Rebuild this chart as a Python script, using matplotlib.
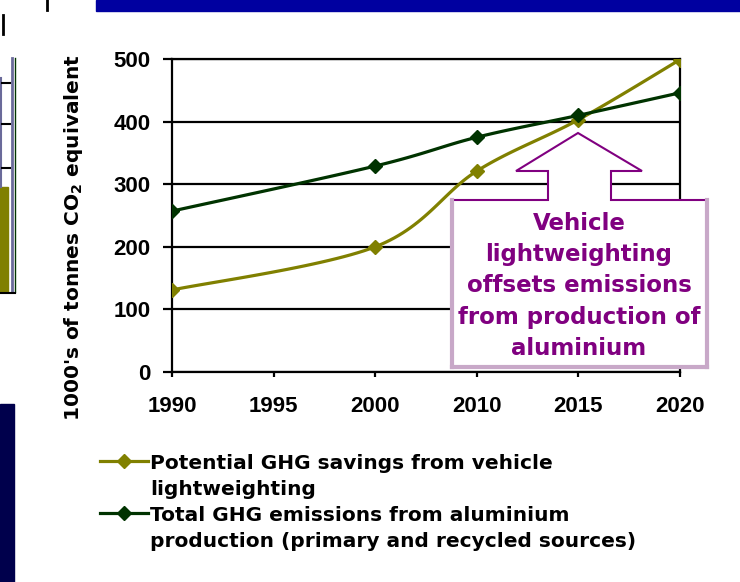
import numpy as np
import matplotlib.pyplot as plt
from matplotlib.patches import Polygon, Rectangle
from matplotlib.lines import Line2D

plt.rcParams['font.family'] = ['Liberation Sans', 'DejaVu Sans']
plt.rcParams['font.weight'] = 'bold'

# data (1995 has no value, the line runs through it)
years = ['1990', '1995', '2000', '2010', '2015', '2020']
savings = [131, None, 200, 321, 403, 499]
emissions = [257, None, 329, 375, 410, 446]
yticks = [0, 100, 200, 300, 400, 500]

label_savings = 'Potential GHG savings from vehicle\nlightweighting'
label_emissions = 'Total GHG emissions from aluminium\nproduction (primary and recycled sources)'
callout_text = 'Vehicle\nlightweighting\noffsets emissions\nfrom production of\naluminium'

c_olive = '#808000'
c_green = '#003300'
c_purple = '#800080'
c_lilac = '#C8A8C8'
wide = ['DejaVu Sans']

W, H = 740, 582


def fx(x):
    return x / W


def fy(y):
    return 1 - y / H


def smooth(xs, ys, n=30):
    # Excel style smoothed line: bezier through the points
    xs = np.asarray(xs, float)
    ys = np.asarray(ys, float)
    ox, oy = [], []
    for i in range(len(xs) - 1):
        i0 = max(i - 1, 0)
        i3 = min(i + 2, len(xs) - 1)
        p1 = np.array([xs[i], ys[i]])
        p2 = np.array([xs[i + 1], ys[i + 1]])
        c1 = p1 + (p2 - np.array([xs[i0], ys[i0]])) / 6
        c2 = p2 - (np.array([xs[i3], ys[i3]]) - p1) / 6
        t = np.linspace(0, 1, n)[:, None]
        b = (1 - t)**3 * p1 + 3 * (1 - t)**2 * t * c1 + 3 * (1 - t) * t**2 * c2 + t**3 * p2
        ox.extend(b[:, 0])
        oy.extend(b[:, 1])
    return ox, oy


fig = plt.figure(figsize=(7.4, 5.82), dpi=100)
ax = fig.add_axes([fx(172), fy(372), (680 - 172) / W, (372 - 59) / H])

for vals, col in [(savings, c_olive), (emissions, c_green)]:
    xi = [i for i, v in enumerate(vals) if v is not None]
    yv = [v for v in vals if v is not None]
    sx, sy = smooth(xi, yv)
    ax.plot(sx, sy, color=col, lw=2.3, zorder=4, solid_capstyle='round')
    ax.plot(xi, yv, ls='none', marker='D', ms=7.5, color=col, zorder=5)

ax.set_xlim(0, len(years) - 1)
ax.set_ylim(0, 500)
ax.set_xticks(range(len(years)))
ax.set_xticklabels(years)
ax.set_yticks(yticks)
ax.yaxis.grid(True, color='black', lw=1.6)
ax.set_axisbelow(True)
for s in ax.spines.values():
    s.set_linewidth(1.6)
ax.tick_params(axis='y', length=6.5, width=1.6, pad=9, labelsize=16)
ax.tick_params(axis='x', length=3.6, width=1.6, pad=13.5, labelsize=16)
ax.set_ylabel("1000's of tonnes CO$_{\\mathbf{2}}$ equivalent", fontsize=14.5,
              fontweight='bold', family=wide)
ax.yaxis.set_label_coords(-0.172, 0.43)

# callout arrow box
pts = [(452, 200), (548, 200), (548, 171), (516, 171), (578, 133), (642, 171),
       (611, 171), (611, 200), (707, 200), (707, 367), (452, 367)]
poly = Polygon([(fx(x), fy(y)) for x, y in pts], closed=True, transform=fig.transFigure,
               facecolor='white', edgecolor=c_purple, lw=1.5, zorder=3)
poly.set_clip_on(False)
ax.add_artist(poly)
for (x0, y0), (x1, y1) in [((452, 200), (452, 367)), ((707, 200), (707, 367)),
                           ((452, 367), (707, 367))]:
    fig.add_artist(Line2D([fx(x0), fx(x1)], [fy(y0), fy(y1)], color=c_lilac, lw=3))
fig.text(fx(579), fy(286), callout_text, color=c_purple, fontsize=16.5, ha='center',
         va='center', linespacing=1.47, family=wide)

# legend drawn by hand
for yy, col, lab in [(461, c_olive, label_savings), (513, c_green, label_emissions)]:
    fig.add_artist(Line2D([fx(100), fx(148)], [fy(yy), fy(yy)], color=col, lw=2.3))
    fig.add_artist(Line2D([fx(124)], [fy(yy)], marker='D', ms=7, color=col))
    fig.text(fx(150), fy(yy - 7), lab, fontsize=14.5, va='top', ha='left',
             linespacing=1.45, family=wide)

# slide fragments around the chart
fig.add_artist(Rectangle((fx(96), fy(11)), fx(740 - 96), 11 / H, color='#0000A0',
                         transform=fig.transFigure))
fig.add_artist(Rectangle((0, fy(582)), fx(14), (582 - 404) / H, color='#00004C',
                         transform=fig.transFigure))
fig.add_artist(Rectangle((0, fy(292)), fx(8), (292 - 187) / H, color='#808000',
                         transform=fig.transFigure))
fig.add_artist(Line2D([fx(12), fx(12)], [fy(58), fy(292)], color='#6A6A9A', lw=2))
fig.add_artist(Line2D([fx(1), fx(1)], [fy(78), fy(187)], color='#6A6A9A', lw=1.5))
fig.add_artist(Line2D([fx(15), fx(15)], [fy(58), fy(292)], color=c_green, lw=1))
fig.add_artist(Line2D([0, fx(15)], [fy(293), fy(293)], color='black', lw=1.5))
for yy in [83, 124, 168]:
    fig.add_artist(Line2D([fx(2), fx(10)], [fy(yy), fy(yy)], color='black', lw=1.5))
fig.add_artist(Line2D([fx(47), fx(47)], [fy(0), fy(10)], color='black', lw=2))
fig.add_artist(Line2D([fx(3), fx(3)], [fy(15), fy(34)], color='black', lw=2))

fig.savefig('out.png', dpi=100)
